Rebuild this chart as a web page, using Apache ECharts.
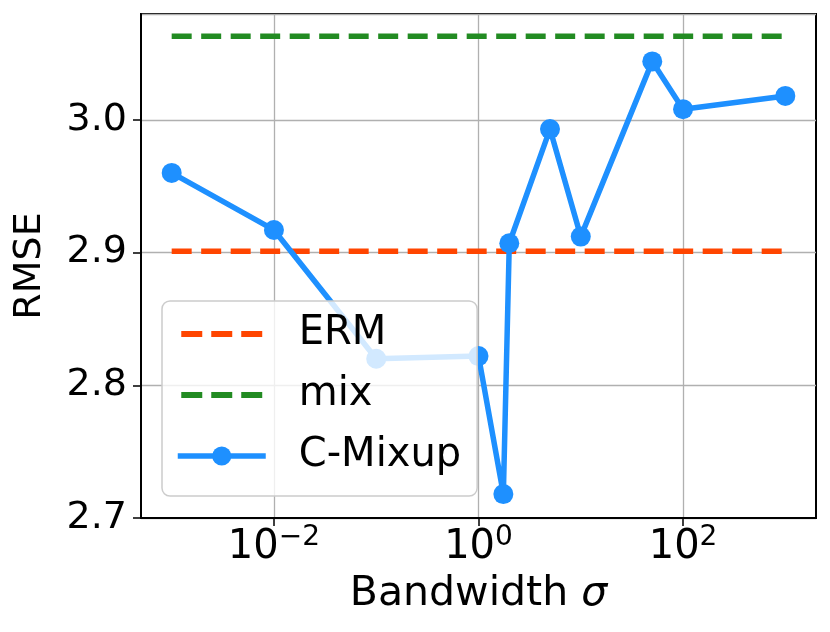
<!DOCTYPE html>
<html>
<head>
<meta charset="utf-8">
<script src="https://cdn.jsdelivr.net/npm/echarts@6/dist/echarts.min.js"></script>
<style>
html,body{margin:0;padding:0;background:#fff;}
#chart{width:830px;height:632px;}
</style>
</head>
<body>
<div id="chart"></div>
<script>
// ---- data ----
var sigma = [0.001, 0.01, 0.1, 1, 1.75, 2, 5, 10, 50, 100, 1000];
var cmixupRMSE = [2.960, 2.917, 2.820, 2.822, 2.718, 2.907, 2.993, 2.912, 3.044, 3.008, 3.018];
var ermX = [0.001, 1000];
var ermRMSE = [2.901, 2.901];
var mixX = [0.001, 1000];
var mixRMSE = [3.063, 3.063];
var xTickValues = [0.01, 1, 100];
var xTickExponents = ['−2', '0', '2'];
var yTickValues = [2.7, 2.8, 2.9, 3.0];

function pairs(xs, ys) { return xs.map(function (x, i) { return [x, ys[i]]; }); }

var FONT = 'DejaVu Sans';
var chart = echarts.init(document.getElementById('chart'), null, {renderer: 'canvas'});

var dashIcon = 'path://M0,0h21v6h-21zM30,0h21v6h-21zM60,0h21v6h-21zM0,-9h0.01v0.01h-0.01zM0,15h0.01v0.01h-0.01z';

var option = {
  animation: false,
  backgroundColor: '#fff',
  textStyle: {fontFamily: FONT},
  grid: {
    left: 141, top: 14, right: 14, bottom: 114,
    show: true, borderColor: '#000', borderWidth: 2, backgroundColor: 'transparent'
  },
  xAxis: {
    type: 'log',
    logBase: 10,
    min: Math.pow(10, -3.3),
    max: Math.pow(10, 3.3),
    name: '{a|Bandwidth }{b|σ}',
    nameLocation: 'middle',
    nameGap: 56,
    nameTextStyle: {
      rich: {
        a: {fontFamily: FONT, fontSize: 41, color: '#000'},
        b: {fontFamily: FONT, fontSize: 41, color: '#000', fontStyle: 'italic'}
      }
    },
    axisLine: {show: true, onZero: false, lineStyle: {color: '#000', width: 2}},
    axisTick: {show: true, inside: false, length: 8, customValues: xTickValues, lineStyle: {color: '#000', width: 1.5}},
    axisLabel: {
      show: true,
      customValues: xTickValues,
      margin: 6,
      showMinLabel: true, showMaxLabel: true,
      formatter: function (v) {
        var idx = -1;
        for (var i = 0; i < xTickValues.length; i++) {
          if (Math.abs(Math.log10(v) - Math.log10(xTickValues[i])) < 1e-6) idx = i;
        }
        if (idx < 0) return '';
        return '{b|10}{s|' + xTickExponents[idx] + '}';
      },
      rich: {
        b: {fontFamily: FONT, fontSize: 40, color: '#000', lineHeight: 48},
        s: {fontFamily: FONT, fontSize: 28, color: '#000', lineHeight: 28, verticalAlign: 'top'}
      }
    },
    splitLine: {show: true, lineStyle: {color: '#b0b0b0', width: 1.3}},
    minorTick: {show: false},
    minorSplitLine: {show: false}
  },
  yAxis: {
    type: 'value',
    min: 2.7,
    max: 3.0797,
    interval: 0.1,
    name: 'RMSE',
    nameLocation: 'middle',
    nameGap: 92,
    nameTextStyle: {fontFamily: FONT, fontSize: 38, color: '#000'},
    axisLine: {show: true, lineStyle: {color: '#000', width: 2}},
    axisTick: {show: true, inside: false, length: 8, lineStyle: {color: '#000', width: 1.5}},
    axisLabel: {
      fontFamily: FONT, fontSize: 38, color: '#000', margin: 14,
      showMaxLabel: false,
      formatter: function (v) {
        for (var i = 0; i < yTickValues.length; i++) {
          if (Math.abs(v - yTickValues[i]) < 1e-6) return yTickValues[i].toFixed(1);
        }
        return '';
      }
    },
    splitLine: {show: true, lineStyle: {color: '#b0b0b0', width: 1.3}}
  },
  legend: {
    orient: 'vertical',
    left: 162, top: 301,
    padding: [11, 16, 18, 13],
    itemWidth: 88, itemHeight: 24, itemGap: 17,
    backgroundColor: 'rgba(255,255,255,0.8)',
    borderColor: '#cccccc', borderWidth: 1.5, borderRadius: 8,
    textStyle: {fontFamily: FONT, fontSize: 40, color: '#000', lineHeight: 44, padding: [0, 0, 0, 28]},
    data: [
      {name: 'ERM', icon: dashIcon},
      {name: 'mix', icon: dashIcon},
      {name: 'C-Mixup', lineStyle: {width: 5.5, color: '#1E90FF'}}
    ]
  },
  series: [
    {
      name: 'ERM', type: 'line', data: pairs(ermX, ermRMSE),
      symbol: 'none', color: '#FF4500', z: 2,
      lineStyle: {color: '#FF4500', width: 5.5, type: [20, 9.5], cap: 'butt'}
    },
    {
      name: 'mix', type: 'line', data: pairs(mixX, mixRMSE),
      symbol: 'none', color: '#228B22', z: 2,
      lineStyle: {color: '#228B22', width: 5.5, type: [20, 9.5], cap: 'butt'}
    },
    {
      name: 'C-Mixup', type: 'line', data: pairs(sigma, cmixupRMSE),
      symbol: 'circle', symbolSize: 20, showSymbol: true, color: '#1E90FF', z: 3,
      itemStyle: {color: '#1E90FF'},
      lineStyle: {color: '#1E90FF', width: 5.5}
    }
  ]
};
chart.setOption(option);
</script>
</body>
</html>
